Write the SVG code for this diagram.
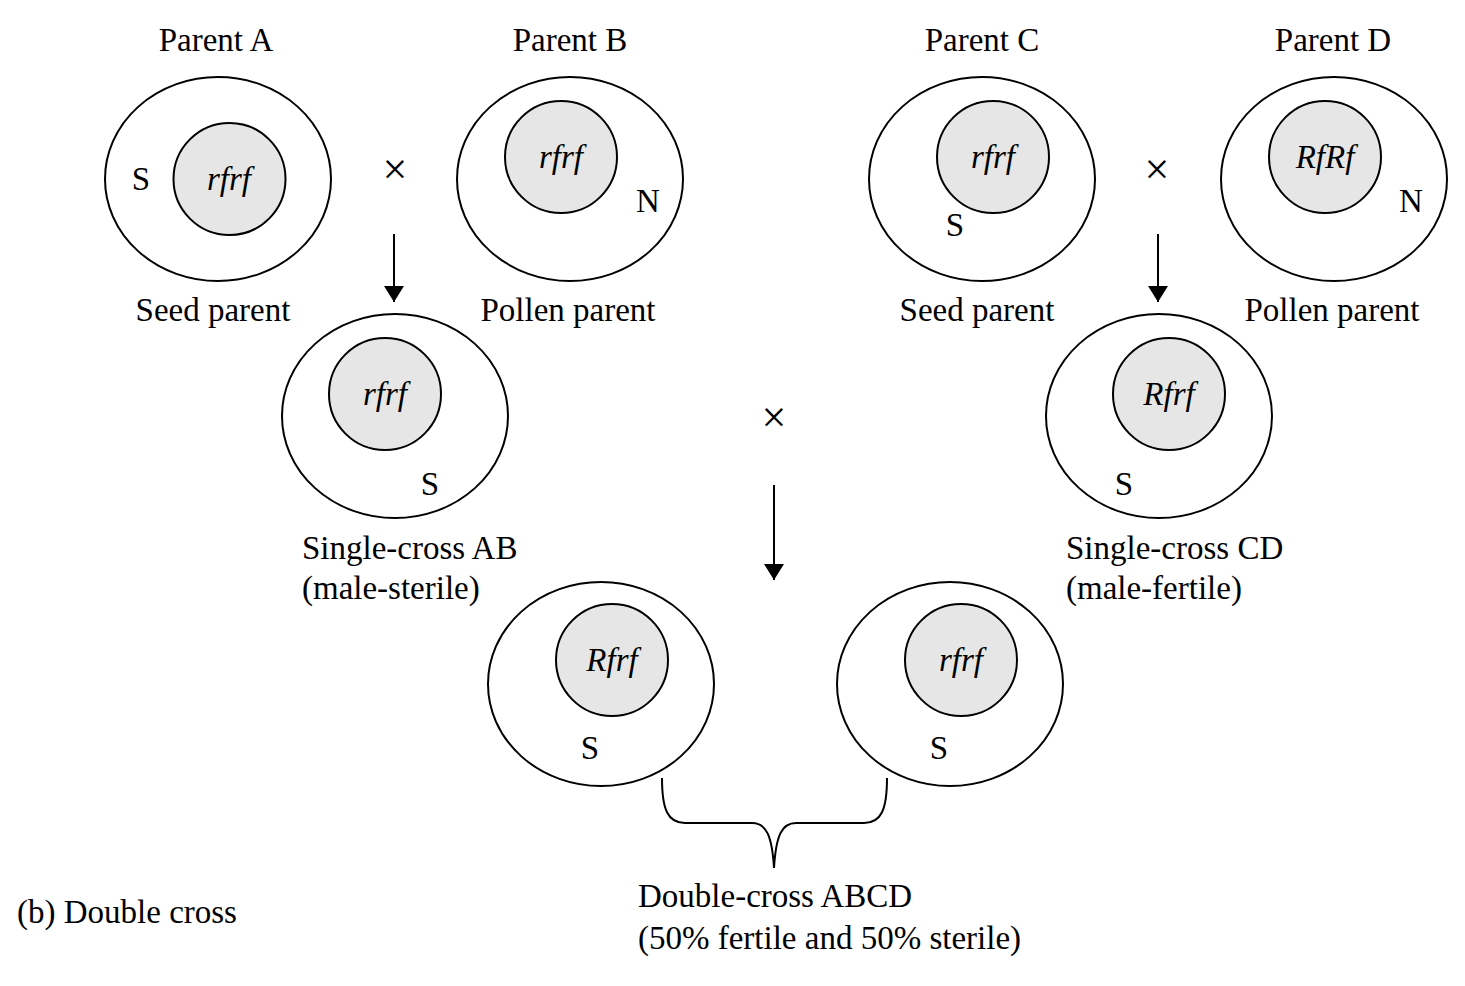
<svg xmlns="http://www.w3.org/2000/svg" width="1465" height="986" viewBox="0 0 1465 986">
<style>
text{font-family:"Liberation Serif","Times New Roman",serif;font-size:33px;fill:#000}
.c{text-anchor:middle}
.i{font-style:italic;text-anchor:middle}
.x{font-size:44px;text-anchor:middle}
.o{fill:#fff;stroke:#000;stroke-width:2}
.n{fill:#e6e6e6;stroke:#000;stroke-width:2}
.l{stroke:#000;stroke-width:2;fill:none}
</style>
<defs>
<marker id="ah" markerWidth="16" markerHeight="20" refX="16" refY="10" orient="auto" markerUnits="userSpaceOnUse" viewBox="0 0 16 20">
<path d="M0,0 L16,10 L0,20 Z" fill="#000"/>
</marker>
</defs>
<rect width="1465" height="986" fill="#fff"/>
<text class="c" x="216" y="51">Parent A</text>
<text class="c" x="570" y="51">Parent B</text>
<text class="c" x="982" y="51">Parent C</text>
<text class="c" x="1333" y="51">Parent D</text>
<g id="parentA">
<ellipse class="o" cx="218" cy="179" rx="113" ry="102"/>
<circle class="n" cx="229.5" cy="179" r="56"/>
<text class="i" x="229" y="190">rfrf</text>
<text class="c" x="141" y="190">S</text>
</g>
<g id="parentB">
<ellipse class="o" cx="570" cy="179" rx="113" ry="102"/>
<circle class="n" cx="561" cy="157" r="56"/>
<text class="i" x="561" y="168">rfrf</text>
<text class="c" x="648" y="212">N</text>
</g>
<g id="parentC">
<ellipse class="o" cx="982" cy="179" rx="113" ry="102"/>
<circle class="n" cx="993" cy="157" r="56"/>
<text class="i" x="993" y="168">rfrf</text>
<text class="c" x="955" y="236">S</text>
</g>
<g id="parentD">
<ellipse class="o" cx="1334" cy="179" rx="113" ry="102"/>
<circle class="n" cx="1325" cy="157" r="56"/>
<text class="i" x="1325" y="168">RfRf</text>
<text class="c" x="1411" y="212">N</text>
</g>
<text class="c" x="213" y="321">Seed parent</text>
<text class="c" x="568" y="321">Pollen parent</text>
<text class="c" x="977" y="321">Seed parent</text>
<text class="c" x="1332" y="321">Pollen parent</text>
<g id="singleAB">
<ellipse class="o" cx="395" cy="416" rx="113" ry="102"/>
<circle class="n" cx="385" cy="394" r="56"/>
<text class="i" x="385" y="405">rfrf</text>
<text class="c" x="430" y="495">S</text>
<text x="302" y="559">Single-cross AB</text>
<text x="302" y="599">(male-sterile)</text>
</g>
<g id="singleCD">
<ellipse class="o" cx="1159" cy="416" rx="113" ry="102"/>
<circle class="n" cx="1169" cy="394" r="56"/>
<text class="i" x="1169" y="405">Rfrf</text>
<text class="c" x="1124" y="495">S</text>
<text x="1066" y="559">Single-cross CD</text>
<text x="1066" y="599">(male-fertile)</text>
</g>
<g id="doubleLeft">
<ellipse class="o" cx="601" cy="684" rx="113" ry="102"/>
<circle class="n" cx="612" cy="660" r="56"/>
<text class="i" x="612" y="671">Rfrf</text>
<text class="c" x="590" y="759">S</text>
</g>
<g id="doubleRight">
<ellipse class="o" cx="950" cy="684" rx="113" ry="102"/>
<circle class="n" cx="961" cy="660" r="56"/>
<text class="i" x="961" y="671">rfrf</text>
<text class="c" x="939" y="759">S</text>
</g>
<g id="connectors">
<text class="x" x="395" y="184">×</text>
<text class="x" x="1157" y="184">×</text>
<text class="x" x="774" y="432">×</text>
<line class="l" x1="394" y1="234" x2="394" y2="302" marker-end="url(#ah)"/>
<line class="l" x1="1158" y1="234" x2="1158" y2="302" marker-end="url(#ah)"/>
<line class="l" x1="774" y1="485" x2="774" y2="580" marker-end="url(#ah)"/>
<path class="l" d="M662,778 C662,810 668,823 685,823 L752,823 C766,823 772,835 774,868 C776,835 782,823 796,823 L864,823 C881,823 887,810 887,778"/>
</g>
<text x="638" y="907">Double-cross ABCD</text>
<text x="638" y="949">(50% fertile and 50% sterile)</text>
<text x="17" y="923">(b) Double cross</text>
</svg>
